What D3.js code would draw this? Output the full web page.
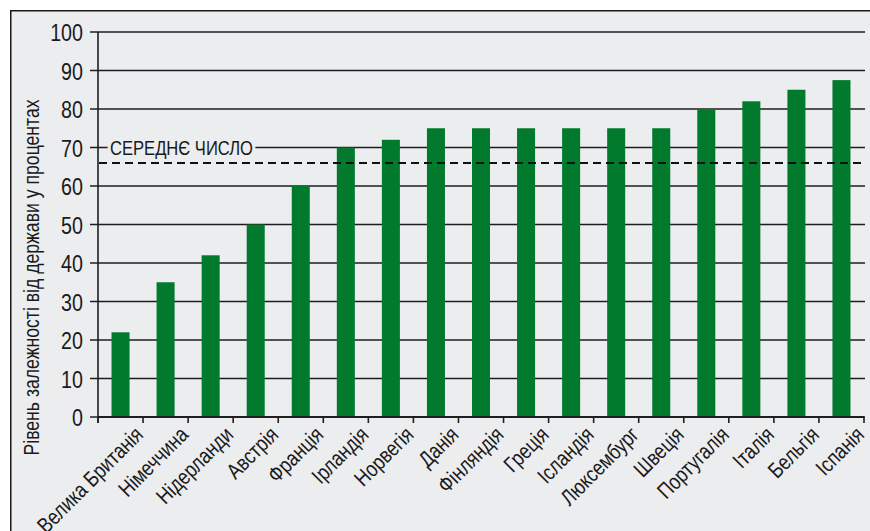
<!DOCTYPE html>
<html>
<head>
<meta charset="utf-8">
<script src="https://cdn.jsdelivr.net/npm/d3@7/dist/d3.min.js"></script>
<style>
  html, body { margin: 0; padding: 0; background: #ffffff; }
  svg { display: block; }
  text { font-family: "Liberation Sans", Arial, sans-serif; fill: #1a1a1a; }
</style>
</head>
<body>
<svg id="chart" width="870" height="531"></svg>
<script>
// Countries, ordered from lowest to highest dependency
const countries = [
  "Велика Британія", "Німеччина", "Нідерланди", "Австрія", "Франція",
  "Ірландія", "Норвегія", "Данія", "Фінляндія", "Греція", "Ісландія",
  "Люксембург", "Швеція", "Португалія", "Італія", "Бельгія", "Іспанія"
];
// Dependency level, percent
const dependency = [22, 35, 42, 50, 60, 70, 72, 75, 75, 75, 75, 75, 75, 80, 82, 85, 87.5];
// Average across all countries
const averageValue = 66;
const averageLabel = "СЕРЕДНЄ ЧИСЛО";
const yTicks = [0, 10, 20, 30, 40, 50, 60, 70, 80, 90, 100];
const yTitle = "Рівень залежності від держави у процентах";

// Horizontal squeeze that gives a condensed look to the text face
const NARROW = 0.82;

const svg = d3.select("#chart");
const W = 870, H = 531;
const margin = { left: 98, right: 6, top: 32, bottom: 114 };

// Panel background with a frame on the top and left
svg.append("rect").attr("x", 10).attr("y", 10).attr("width", W - 10).attr("height", H - 10)
  .attr("fill", "#ecedef");
svg.append("path").attr("d", `M10.75,${H} V10.75 H${W}`)
  .attr("fill", "none").attr("stroke", "#1a1a1a").attr("stroke-width", 1.5);

const x = d3.scaleBand().domain(countries).range([margin.left, W - margin.right])
  .paddingInner(0.6).paddingOuter(0.3);
const y = d3.scaleLinear().domain([0, 100]).range([H - margin.bottom, margin.top]);

// Horizontal gridlines, extending left past the axis as tick marks
const grid = svg.append("g");
grid.selectAll("line").data(yTicks).join("line")
  .attr("x1", margin.left - 8).attr("x2", W - margin.right + 1)
  .attr("y1", d => y(d)).attr("y2", d => y(d))
  .attr("stroke", "#1e1e1e").attr("stroke-width", 1.6);

// Y tick labels
const yAxis = d3.axisLeft(y).tickValues(yTicks).tickSize(0).tickPadding(0);
const gy = svg.append("g").attr("transform", `translate(${margin.left - 15},0)`).call(yAxis);
gy.select(".domain").remove();
gy.selectAll("text")
  .attr("x", 0).attr("dy", "0.36em")
  .attr("transform", `scale(${NARROW},1)`)
  .attr("font-size", 24)
  .style("font-family", '"Liberation Sans", Arial, sans-serif')
  .attr("fill", "#1a1a1a");

// Bars
svg.append("g").selectAll("rect").data(dependency).join("rect")
  .attr("x", (d, i) => x(countries[i]))
  .attr("width", x.bandwidth())
  .attr("y", d => y(d))
  .attr("height", d => y(0) - y(d))
  .attr("fill", "#017a2e");

// Average line
svg.append("line")
  .attr("x1", margin.left + 1).attr("x2", W - margin.right + 1)
  .attr("y1", y(averageValue)).attr("y2", y(averageValue))
  .attr("stroke", "#111").attr("stroke-width", 2).attr("stroke-dasharray", "8,5");

// Label sitting on the 70 gridline, knocked out of the line
const lblG = svg.append("g").attr("transform", `translate(110,${y(70)}) scale(0.79,1)`);
const lblBg = lblG.append("rect").attr("fill", "#ecedef");
const lbl = lblG.append("text").text(averageLabel).attr("dy", "0.36em").attr("font-size", 21);
const bb = lbl.node().getBBox();
lblBg.attr("x", bb.x - 3).attr("y", -4).attr("width", bb.width + 6).attr("height", 8);

// X axis with category boundary ticks
const xAxisY = y(0);
svg.append("line").attr("x1", margin.left).attr("x2", W - margin.right)
  .attr("y1", xAxisY).attr("y2", xAxisY).attr("stroke", "#1e1e1e").attr("stroke-width", 1.8);
svg.append("line").attr("x1", margin.left).attr("x2", margin.left)
  .attr("y1", margin.top).attr("y2", xAxisY + 6).attr("stroke", "#1e1e1e").attr("stroke-width", 1.6);
const step = x.step();
const bounds = d3.range(countries.length + 1).map(i => margin.left + i * step);
svg.append("g").selectAll("line").data(bounds).join("line")
  .attr("x1", d => d).attr("x2", d => d)
  .attr("y1", xAxisY).attr("y2", xAxisY + 6)
  .attr("stroke", "#1e1e1e").attr("stroke-width", 1.6);

// Rotated category labels
svg.append("g").selectAll("text").data(countries).join("text")
  .attr("transform", d => `translate(${x(d) + x.bandwidth() / 2 + 24},${xAxisY + 19}) rotate(-45) scale(${NARROW},1)`)
  .attr("text-anchor", "end")
  .attr("font-size", 22)
  .text(d => d);

// Y axis title
svg.append("text")
  .attr("transform", `translate(39,${(93 + 462) / 2}) rotate(-90) scale(${NARROW},1)`)
  .attr("text-anchor", "middle")
  .attr("font-size", 21.5)
  .text(yTitle);
</script>
</body>
</html>
